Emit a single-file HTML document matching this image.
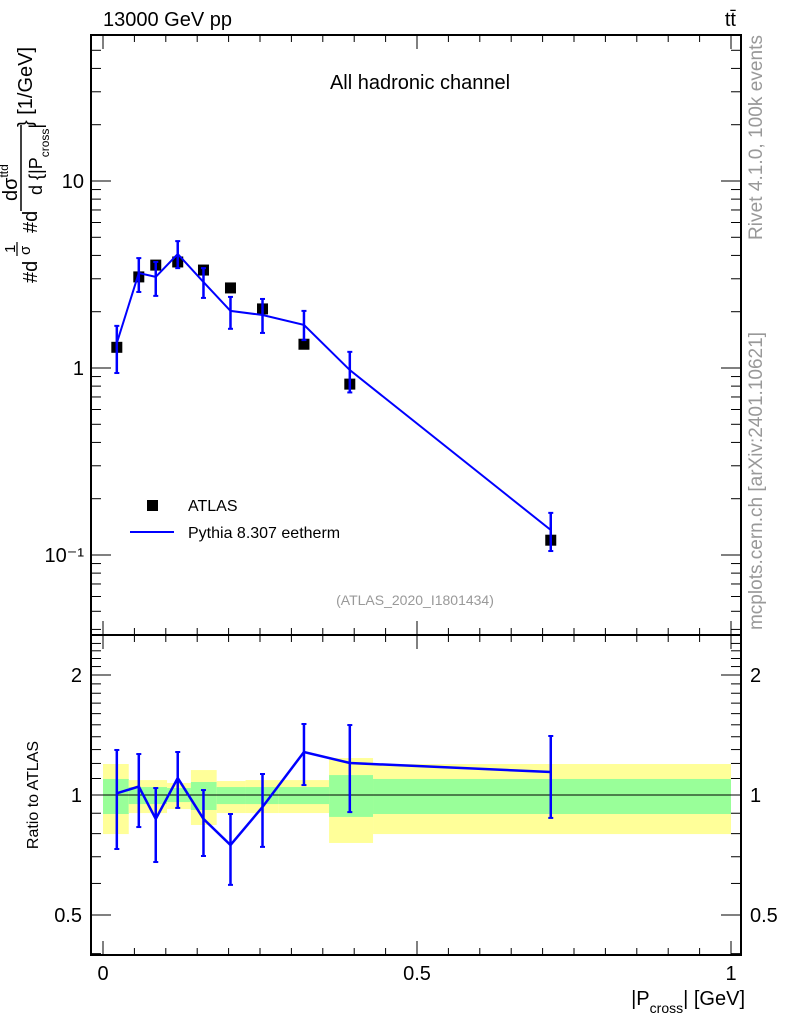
<!DOCTYPE html>
<html><head><meta charset="utf-8"><style>
html,body{margin:0;padding:0;background:#fff;}
svg{display:block;font-family:"Liberation Sans",sans-serif;}
</style></head><body>
<svg id="c" width="786" height="1024" viewBox="0 0 786 1024">
<g id="bands"></g><g id="frames"></g><g id="marks"></g><g id="txt">
<text x="103" y="26" font-size="20">13000 GeV pp</text>
<text x="736" y="26" font-size="20" text-anchor="end">tt̄</text>
<text x="420" y="89" font-size="20" text-anchor="middle">All hadronic channel</text>
<text x="415" y="605" font-size="14" fill="#999" text-anchor="middle">(ATLAS_2020_I1801434)</text>
<text transform="translate(762,240) rotate(-90)" font-size="19" fill="#999" textLength="205">Rivet 4.1.0,  100k events</text>
<text transform="translate(762,630) rotate(-90)" font-size="19" fill="#999" textLength="298">mcplots.cern.ch [arXiv:2401.10621]</text>
<g transform="translate(0,285) rotate(-90)">
<text x="2" y="37" font-size="20">#d</text>
<text x="32" y="15" font-size="15">1</text>
<line x1="29" y1="17" x2="43" y2="17" stroke="#000" stroke-width="1.2"/>
<text x="30" y="30" font-size="15">σ</text>
<text x="52" y="37" font-size="20">#d</text>
<text x="84" y="17" font-size="20">dσ<tspan font-size="12" dy="-9">ttd</tspan></text>
<line x1="74" y1="21" x2="160" y2="21" stroke="#000" stroke-width="1.5"/>
<text x="90" y="42" font-size="18">d {|P<tspan font-size="12" dy="7">cross</tspan><tspan dy="-7">|</tspan></text>
<text x="158" y="32" font-size="20">} [1/GeV]</text>
</g>
<text transform="translate(38,795) rotate(-90)" font-size="16" text-anchor="middle">Ratio to ATLAS</text>
<text x="745" y="1005" font-size="20" text-anchor="end">|P<tspan font-size="14" dy="8">cross</tspan><tspan dy="-8">| [GeV]</tspan></text>
<rect x="147" y="500" width="11" height="11" fill="#000"/>
<text x="188" y="511" font-size="16">ATLAS</text>
<line x1="130" y1="532" x2="174" y2="532" stroke="#0000ff" stroke-width="2"/>
<text x="188" y="538" font-size="16">Pythia 8.307 eetherm</text>
</g></svg>
<script>
const xs=[0.022,0.057,0.084,0.119,0.160,0.203,0.254,0.320,0.393,0.713];
const dataV=[1.29,3.07,3.55,3.69,3.34,2.68,2.07,1.34,0.82,0.12];
const mcV=[1.36,3.22,3.07,4.07,2.88,2.02,1.92,1.70,0.975,0.136];
const mcHi=[1.68,3.87,3.69,4.77,3.42,2.40,2.34,2.02,1.22,0.168];
const mcLo=[0.94,2.55,2.43,3.42,2.37,1.62,1.54,1.41,0.74,0.105];
const rV=[1.01,1.05,0.871,1.103,0.871,0.749,0.933,1.282,1.203,1.142];
const rHi=[1.297,1.267,1.041,1.282,1.029,0.896,1.129,1.507,1.498,1.406];
const rLo=[0.732,0.831,0.679,0.928,0.703,0.595,0.741,1.059,0.906,0.876];
const bandEdges=[0,0.041,0.102,0.140,0.181,0.227,0.280,0.360,0.430,1.0];
const yelHi=[1.196,1.09,1.072,1.155,1.084,1.09,1.09,1.238,1.196];
const yelLo=[0.798,0.901,0.922,0.841,0.901,0.901,0.901,0.758,0.798];
const grnHi=[1.097,1.047,1.041,1.078,1.047,1.047,1.047,1.122,1.097];
const grnLo=[0.896,0.949,0.960,0.917,0.949,0.949,0.949,0.881,0.896];
const xTicks=[0,0.5,1];const xTickLabels=["0","0.5","1"];
const yTicks=[0.1,1,10];const yTickLabels=["10⁻¹","1","10"];
const rTicks=[0.5,1,2];const rTickLabels=["0.5","1","2"];

const NS="http://www.w3.org/2000/svg";
const X=v=>103+v*628;
const Y=v=>368-Math.log10(v)*187;
const R=v=>795-Math.log2(v)*120;
const L=91,RT=741,T1=35,B1=635,T2=635,B2=955;
function mk(p,tag,a){const e=document.createElementNS(NS,tag);for(const k in a)e.setAttribute(k,a[k]);document.getElementById(p).appendChild(e);return e;}
for(let i=0;i<yelHi.length;i++){
 const x0=X(bandEdges[i]),w=X(bandEdges[i+1])-x0;
 const y=mk('bands','rect',{x:x0,y:R(yelHi[i]),width:w,height:R(yelLo[i])-R(yelHi[i]),fill:'#ffff99'});
 
 
 const g=mk('bands','rect',{x:x0,y:R(grnHi[i]),width:w,height:R(grnLo[i])-R(grnHi[i]),fill:'#99ff99'});
 
 
}
mk('bands','line',{x1:L,x2:RT,y1:R(1),y2:R(1),stroke:'#000','stroke-width':1});
const f1=mk('frames','rect',{x:L,y:T1,width:RT-L,height:B1-T1,fill:'none',stroke:'#000','stroke-width':2});


const f2=mk('frames','rect',{x:L,y:T2,width:RT-L,height:B2-T2,fill:'none',stroke:'#000','stroke-width':2});


for(let k=0;k<=20;k++){const v=k*0.05,big=(k%10==0),len=big?14:7,xx=X(v);
 for(const [yb,d] of [[B1,-1],[T1,1],[B2,-1],[T2,1]]) mk('frames','line',{x1:xx,x2:xx,y1:yb,y2:yb+d*len,stroke:'#000'});}
xTicks.forEach((v,i)=>{const t=mk('txt','text',{x:X(v),y:980,'font-size':20,'text-anchor':'middle'});t.textContent=xTickLabels[i];
 
 });
for(let d=-2;d<=1;d++)for(let m=1;m<=9;m++){const v=m*Math.pow(10,d),yy=Y(v);if(yy<T1||yy>B1)continue;const len=m==1?20:10;
 mk('frames','line',{x1:L,x2:L+len,y1:yy,y2:yy,stroke:'#000'});mk('frames','line',{x1:RT,x2:RT-len,y1:yy,y2:yy,stroke:'#000'});}
yTicks.forEach((v,i)=>{const t=mk('txt','text',{x:84,y:Y(v)+7,'font-size':20,'text-anchor':'end'});t.textContent=yTickLabels[i];
 
 });
for(let v=0.4;v<=2.5;v+=0.1){const yy=R(v);if(yy<T2||yy>B2)continue;const big=[0.5,1,2].some(a=>Math.abs(a-v)<1e-6);const len=big?20:10;
 mk('frames','line',{x1:L,x2:L+len,y1:yy,y2:yy,stroke:'#000'});mk('frames','line',{x1:RT,x2:RT-len,y1:yy,y2:yy,stroke:'#000'});}
rTicks.forEach((v,i)=>{const a=mk('txt','text',{x:82,y:R(v)+7,'font-size':20,'text-anchor':'end'});a.textContent=rTickLabels[i];
 
 
 const b=mk('txt','text',{x:750,y:R(v)+7,'font-size':20});b.textContent=rTickLabels[i];
 
 });
xs.forEach((x,i)=>{const r=mk('marks','rect',{x:X(x)-5.5,y:Y(dataV[i])-5.5,width:11,height:11,fill:'#000'});
 
 });
function err(x,lo,hi,yf){const xx=X(x);mk('marks','line',{x1:xx,x2:xx,y1:yf(lo),y2:yf(hi),stroke:'#0000ff','stroke-width':2.5});
 [lo,hi].forEach(v=>mk('marks','line',{x1:xx-2.5,x2:xx+2.5,y1:yf(v),y2:yf(v),stroke:'#0000ff','stroke-width':2}));}
xs.forEach((x,i)=>{err(x,mcLo[i],mcHi[i],Y);err(x,rLo[i],rHi[i],R);});
const p1=mk('marks','polyline',{points:xs.map((x,i)=>X(x)+','+Y(mcV[i])).join(' '),fill:'none',stroke:'#0000ff','stroke-width':2});


const p2=mk('marks','polyline',{points:xs.map((x,i)=>X(x)+','+R(rV[i])).join(' '),fill:'none',stroke:'#0000ff','stroke-width':2.5});


</script>
</body></html>
